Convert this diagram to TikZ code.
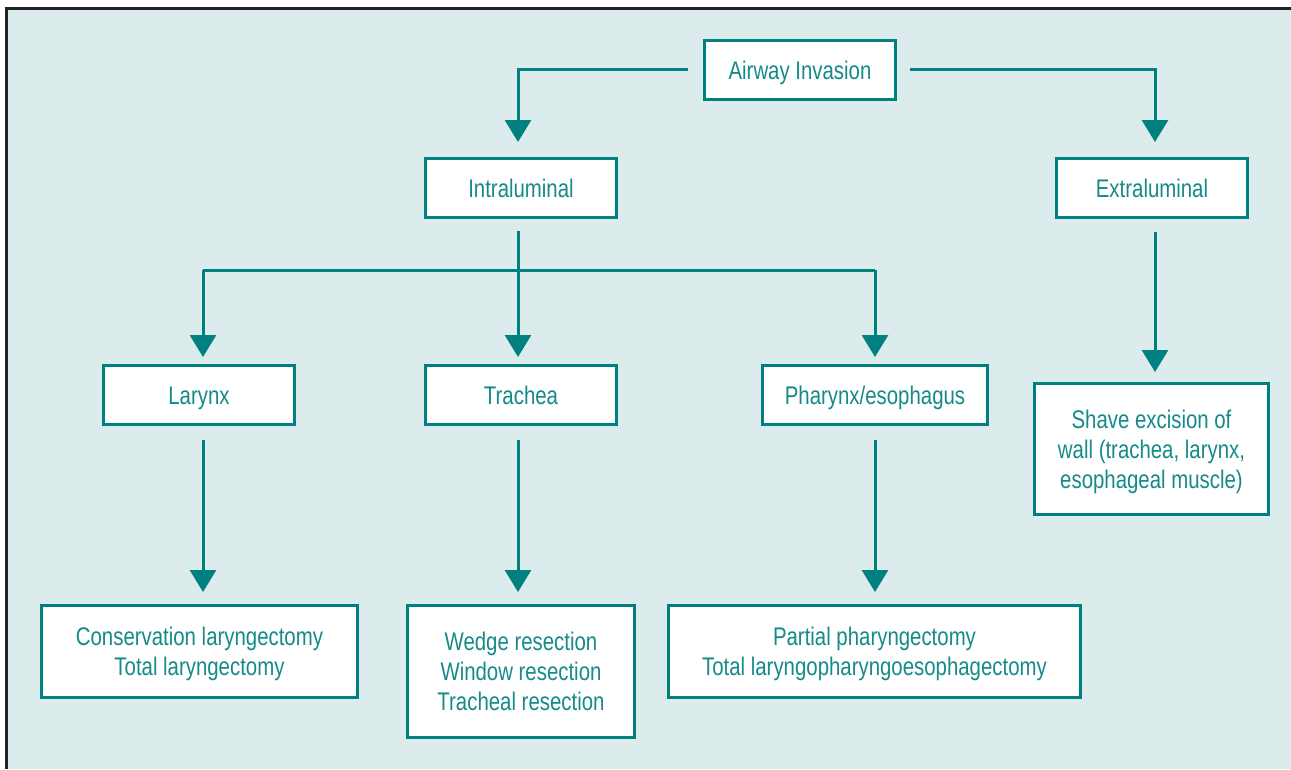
\documentclass[tikz,border=0pt]{standalone}
\usepackage{fontspec}
\setmainfont{Liberation Sans}[FakeStretch=0.8]
\usetikzlibrary{arrows.meta}
\definecolor{bgc}{HTML}{DCEBEB}
\definecolor{tealc}{HTML}{00807F}
\definecolor{txtc}{HTML}{168A8A}
\definecolor{framec}{HTML}{222222}
\newcommand{\topstrut}{\rule{0pt}{24pt}}
\begin{document}
\begin{tikzpicture}[x=1pt,y=-1pt,
  box/.style={draw=tealc,line width=3pt,fill=white,inner sep=0pt,align=center,
    text=txtc,font=\fontsize{25.5}{30}\selectfont},
  one/.style={box,text height=22pt,text depth=3pt},
  conn/.style={draw=tealc,line width=3pt},
  arr/.style={conn,-{Triangle[width=26pt,length=22pt]}}]
\useasboundingbox (0,0) rectangle (1291,769);
\fill[white] (0,0) rectangle (1291,769);
\fill[bgc] (5,7) rectangle (1291,769);
\draw[framec,line width=3pt] (6,769) -- (6,8) -- (1291,8);
% nodes
\node[one,minimum width=191pt,minimum height=59pt] (air) at (800,70) {Airway Invasion};
\node[one,minimum width=191pt,minimum height=59pt] (intra) at (521,188) {Intraluminal};
\node[one,minimum width=191pt,minimum height=59pt] (extra) at (1152,188) {Extraluminal};
\node[one,minimum width=191pt,minimum height=59pt] (lar) at (199,395) {Larynx};
\node[one,minimum width=191pt,minimum height=59pt] (tra) at (521,395) {Trachea};
\node[one,minimum width=225pt,minimum height=59pt] (pha) at (875,395) {Pharynx/esophagus};
\node[box,minimum width=234pt,minimum height=131pt] (shave) at (1151.5,449) {\topstrut Shave excision of\\wall (trachea, larynx,\\esophageal muscle)};
\node[box,minimum width=316pt,minimum height=92pt] (cons) at (199.5,651.5) {\topstrut Conservation laryngectomy\\Total laryngectomy};
\node[box,minimum width=227pt,minimum height=132pt] (wedge) at (521,671.5) {Wedge resection\\Window resection\\Tracheal resection};
\node[box,minimum width=412pt,minimum height=92pt] (part) at (874.5,651.5) {\topstrut Partial pharyngectomy\\Total laryngopharyngoesophagectomy};
% connectors
\draw[arr] ([xshift=-15pt,yshift=1pt]air.west) -| ([xshift=-3pt,yshift=15pt]intra.north);
\draw[arr] ([xshift=13pt,yshift=1pt]air.east) -| ([xshift=3pt,yshift=15pt]extra.north);
\coordinate (hub) at ([xshift=-3pt]intra.south |- 0,270);
\draw[arr] ([xshift=-3pt,yshift=-12pt]intra.south) -- ([xshift=-3pt,yshift=7pt]tra.north);
\draw[conn] ([xshift=4pt]lar.north |- hub) -- (pha.north |- hub);
\draw[arr] ([xshift=4pt]lar.north |- hub) -- ([xshift=4pt,yshift=7pt]lar.north);
\draw[arr] (pha.north |- hub) -- ([yshift=7pt]pha.north);
\draw[arr] ([xshift=3pt,yshift=-13pt]extra.south) -- ([xshift=3.5pt,yshift=10pt]shave.north);
\draw[arr] ([xshift=4pt,yshift=-14pt]lar.south) -- ([xshift=3.5pt,yshift=12pt]cons.north);
\draw[arr] ([xshift=-3pt,yshift=-14pt]tra.south) -- ([xshift=-3pt,yshift=12pt]wedge.north);
\draw[arr] ([yshift=-14pt]pha.south) -- ([xshift=0.5pt,yshift=12pt]part.north);
\end{tikzpicture}
\end{document}
